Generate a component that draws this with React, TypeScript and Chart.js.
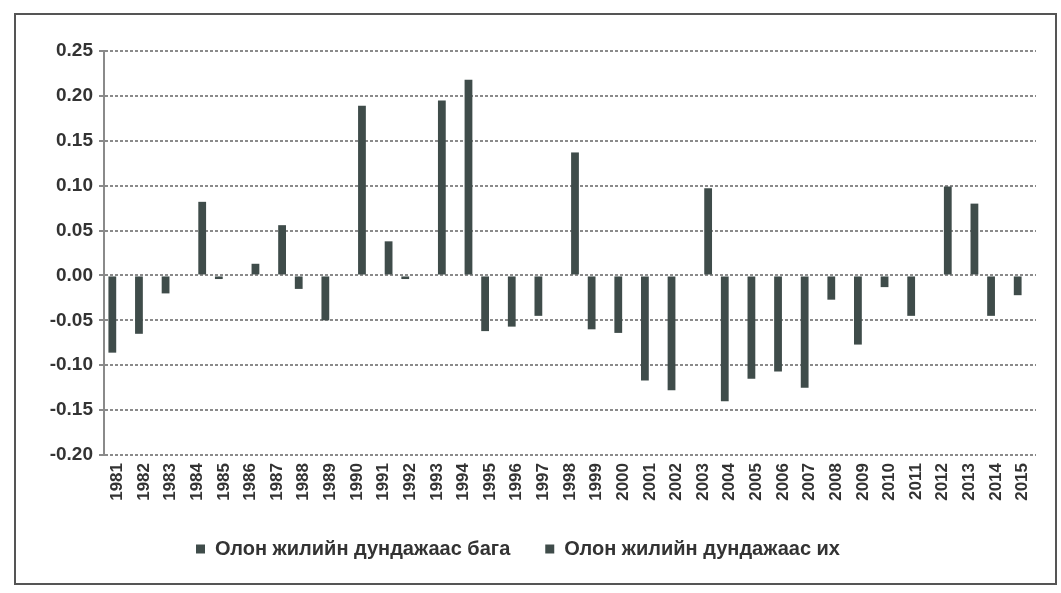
import React, { useEffect, useRef } from "react";
import { Chart, registerables } from "chart.js";

Chart.register(...registerables);

const years: string[] = [
  "1981", "1982", "1983", "1984", "1985", "1986", "1987", "1988", "1989", "1990",
  "1991", "1992", "1993", "1994", "1995", "1996", "1997", "1998", "1999", "2000",
  "2001", "2002", "2003", "2004", "2005", "2006", "2007", "2008", "2009", "2010",
  "2011", "2012", "2013", "2014", "2015",
];

const belowAverage: (number | null)[] = [
  -0.086, -0.065, -0.02, null, -0.004, null, null, -0.015, -0.05, null,
  null, -0.004, null, null, -0.062, -0.057, -0.045, null, -0.06, -0.064,
  -0.117, -0.128, null, -0.14, -0.115, -0.107, -0.125, -0.027, -0.077, -0.013,
  -0.045, null, null, -0.045, -0.022,
];

const aboveAverage: (number | null)[] = [
  null, null, null, 0.082, null, 0.013, 0.056, null, null, 0.189,
  0.038, null, 0.195, 0.218, null, null, null, 0.137, null, null,
  null, null, 0.097, null, null, null, null, null, null, null,
  null, 0.099, 0.08, null, null,
];

const seriesNames: string[] = ["Олон жилийн дундажаас бага", "Олон жилийн дундажаас их"];

const yMin = -0.2;
const yMax = 0.25;
const yStep = 0.05;

export default function App() {
  const canvasRef = useRef<HTMLCanvasElement | null>(null);

  useEffect(() => {
    if (!canvasRef.current) return;
    const barColor = "#3f4c4a";
    const chart = new Chart(canvasRef.current, {
      type: "bar",
      data: {
        labels: years,
        datasets: [
          {
            label: seriesNames[0],
            data: belowAverage,
            backgroundColor: barColor,
            borderWidth: 0,
            categoryPercentage: 0.75,
            barPercentage: 0.78,
          },
          {
            label: seriesNames[1],
            data: aboveAverage,
            backgroundColor: barColor,
            borderWidth: 0,
            categoryPercentage: 0.75,
            barPercentage: 0.78,
          },
        ],
      },
      options: {
        responsive: false,
        animation: false,
        devicePixelRatio: 1,
        layout: { padding: { top: 51, right: 25, left: 0, bottom: 24 } },
        plugins: {
          tooltip: { enabled: false },
          legend: {
            position: "bottom",
            labels: {
              boxWidth: 9,
              boxHeight: 9,
              padding: 35,
              color: "#333",
              font: { family: "Liberation Sans, Arial, sans-serif", size: 20, weight: "bold" },
            },
          },
        },
        scales: {
          x: {
            afterFit: (scale: any) => {
              scale.height = 49;
            },
            grid: { display: false },
            border: { display: false },
            ticks: {
              minRotation: 90,
              maxRotation: 90,
              autoSkip: false,
              padding: 0,
              color: "#333",
              font: { family: "Liberation Sans, Arial, sans-serif", size: 17, weight: "bold" },
            },
          },
          y: {
            min: yMin,
            max: yMax,
            afterFit: (scale: any) => {
              scale.width = 104;
            },
            grid: {
              color: "#8a8a8a",
              lineWidth: 2,
              tickLength: 5,
            },
            border: { display: true, color: "#8a8a8a", width: 2, dash: [3, 2] },
            ticks: {
              stepSize: yStep,
              padding: 6,
              color: "#333",
              font: { family: "Liberation Sans, Arial, sans-serif", size: 19, weight: "bold" },
              callback: (v: any) => Number(v).toFixed(2),
            },
          },
        },
      },
    });
    return () => chart.destroy();
  }, []);

  return (
    <div style={{ position: "absolute", left: 0, top: 0, width: 1061, height: 593, background: "#fff" }}>
      <div
        style={{
          position: "absolute",
          left: 14,
          top: 13,
          width: 1043,
          height: 572,
          border: "2px solid #555",
          boxSizing: "border-box",
        }}
      />
      <canvas ref={canvasRef} width={1061} height={593} style={{ position: "absolute", left: 0, top: 0 }} />
    </div>
  );
}
